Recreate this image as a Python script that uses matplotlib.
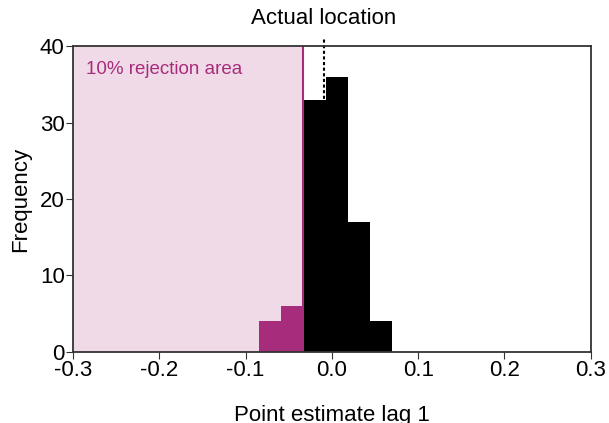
import matplotlib
matplotlib.use('Agg')
import matplotlib.pyplot as plt
import numpy as np

plt.rcParams['font.family'] = ['Liberation Sans', 'DejaVu Sans']

# histogram of point estimates (lag 1)
bin_edges = [-0.0842, -0.0585, -0.0328, -0.0071, 0.0186, 0.0443, 0.0700]
counts = [4, 6, 33, 36, 17, 4]
critical_value = -0.0330
actual_location = -0.0093

magenta = '#a82c7c'
pink = '#f0dae7'

fig, ax = plt.subplots(figsize=(6.09, 4.23), dpi=100)
fig.subplots_adjust(left=0.12, right=0.97, bottom=0.168, top=0.891)

ax.axvspan(-0.3, critical_value, color=pink, zorder=0, lw=0)
ax.axvline(critical_value, color=magenta, lw=1.5, zorder=1)
ax.plot([actual_location, actual_location], [0, 41], color='black', ls=(0, (1.5, 1.2)),
        lw=1.5, zorder=1, clip_on=False)

lefts = np.array(bin_edges[:-1])
widths = np.diff(bin_edges)
colors = [magenta if l < critical_value - 1e-6 else 'black' for l in lefts]
ax.bar(lefts, counts, width=widths, align='edge', color=colors, lw=0, zorder=2)

ax.text(-0.285, 36.9, '10% rejection area', color=magenta, fontsize=13.5, va='center')
ax.text(actual_location, 42.2, 'Actual location', ha='center', va='bottom', fontsize=16)

ax.set_xlim(-0.3, 0.3)
ax.set_ylim(0, 40)
ax.set_xticks(np.arange(-0.3, 0.31, 0.1))
ax.set_xticklabels(['-0.3', '-0.2', '-0.1', '0.0', '0.1', '0.2', '0.3'])
ax.set_yticks([0, 10, 20, 30, 40])
ax.tick_params(labelsize=16, length=5, color='#333333', pad=1)
for s in ax.spines.values():
    s.set_color('#333333')
    s.set_linewidth(1.3)
ax.set_xlabel('Point estimate lag 1', fontsize=16, labelpad=17)
ax.set_ylabel('Frequency', fontsize=16, labelpad=6)

plt.savefig('out.png', dpi=100)
